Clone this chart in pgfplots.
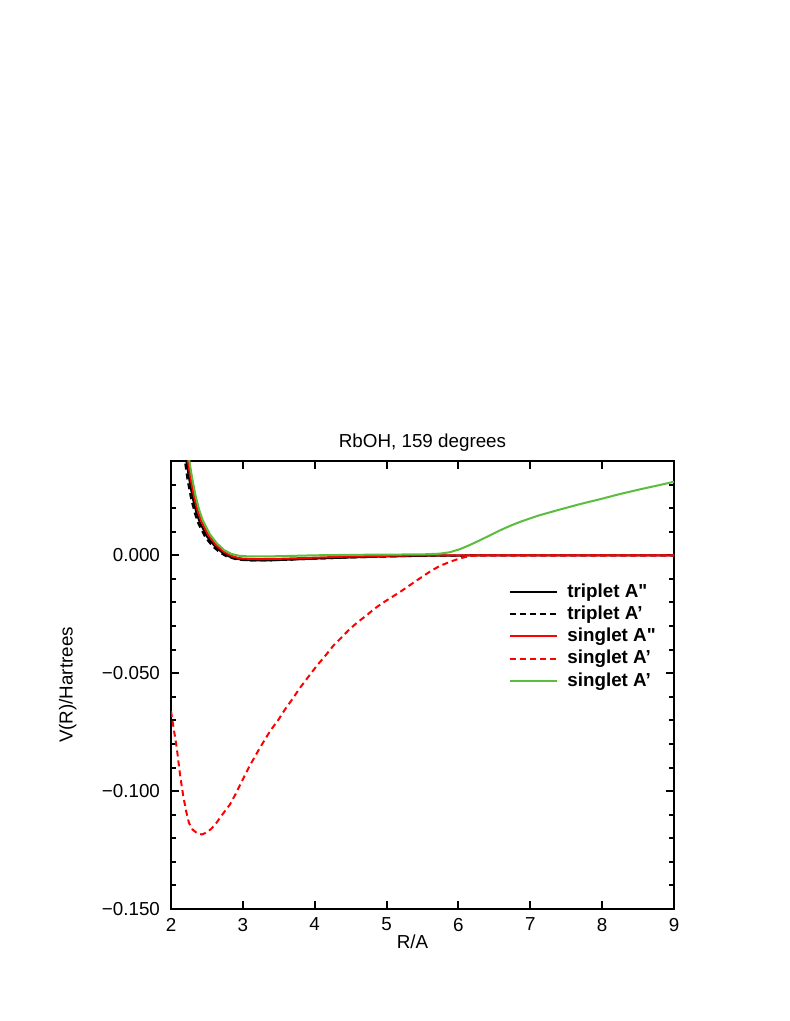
\documentclass[border=0pt]{standalone}
\usepackage{fontspec}
\setmainfont{Liberation Sans}[Ligatures=TeXOff]
\usepackage{pgfplots}
\pgfplotsset{compat=1.18}
\definecolor{mygreen}{RGB}{90,190,60}
\newcommand{\fs}{\fontsize{9.4}{11}\selectfont}
\newcommand{\dq}{\char34\relax}
\begin{document}
\begin{tikzpicture}
\path[use as bounding box] (0,0) rectangle (394.5pt,510.5pt);
\begin{axis}[
  at={(85.5pt,56pt)}, anchor=south west,
  scale only axis, width=251.5pt, height=224pt,
  xmin=2, xmax=9, ymin=-0.15, ymax=0.04,
  xtick={2,3,4,5,6,7,8,9},
  ytick={-0.15,-0.1,-0.05,0},
  yticklabels={−0.150,−0.100,−0.050,0.000},
  minor ytick={-0.14,-0.13,-0.12,-0.11,-0.09,-0.08,-0.07,-0.06,-0.04,-0.03,-0.02,-0.01,0.01,0.02,0.03},
  tick align=inside, tick pos=both,
  major tick length=4pt, minor tick length=2.5pt,
  every tick/.style={black, line width=1pt},
  axis line style={line width=1pt},
  /pgf/number format/assume math mode=true,
  tick label style={font=\fs},
  xticklabel style={yshift=-1pt},
  yticklabel style={xshift=-2pt},
  xlabel={R/A}, ylabel={V(R)/Hartrees},
  label style={font=\fs},
  xlabel style={at={(axis description cs:0.48,-0.074)}, anchor=center},
  ylabel style={at={(axis description cs:-0.205,0.5)}, anchor=center},
  clip mode=individual,
  legend style={at={(0.66,0.745)}, anchor=north west, draw=none, fill=none, font=\fs\bfseries, row sep=-1.2pt,
    nodes={inner xsep=4.5pt}},
  legend cell align=left,
  legend image code/.code={\draw[#1] (0pt,0pt) -- (23.5pt,0pt);},
]
\node[font=\fs, anchor=center] at (rel axis cs:0.5,1.042) {RbOH, 159 degrees};
\addplot[black, line width=1pt] coordinates {
(2.15,0.06) (2.2,0.043) (2.25,0.033) (2.3,0.0245) (2.35,0.0185) (2.4,0.0140) (2.5,0.0080) (2.6,0.0042) (2.7,0.0015) (2.8,-0.0004) (2.9,-0.0014) (3.0,-0.0019) (3.1,-0.0021) (3.2,-0.0022) (3.4,-0.0021) (3.6,-0.0019) (4.0,-0.0014) (4.5,-0.0009) (5.0,-0.0005) (5.5,-0.0002) (6.0,-0.0001) (6.5,0) (9.0,0)};
\addlegendentry{triplet A\dq}
\addplot[black, line width=1pt, dash pattern=on 3pt off 2pt] coordinates {
(2.13,0.06) (2.18,0.043) (2.23,0.032) (2.28,0.024) (2.33,0.018) (2.38,0.0135) (2.48,0.0075) (2.58,0.0038) (2.68,0.0012) (2.78,-0.0006) (2.9,-0.0016) (3.0,-0.002) (3.2,-0.0022) (3.4,-0.0021) (3.6,-0.0019) (4.0,-0.0014) (4.5,-0.0009) (5.0,-0.0005) (5.5,-0.0002) (6.0,-0.0001) (6.5,0) (9.0,0)};
\addlegendentry{triplet A’}
\addplot[red, line width=1pt] coordinates {
(2.17,0.06) (2.22,0.043) (2.27,0.033) (2.32,0.025) (2.37,0.019) (2.42,0.0145) (2.52,0.0085) (2.62,0.0046) (2.72,0.0018) (2.82,0.0) (2.92,-0.001) (3.0,-0.0014) (3.2,-0.0016) (3.5,-0.0015) (4.0,-0.001) (4.5,-0.0005) (5.0,-0.0002) (5.5,0) (9,0)};
\addlegendentry{singlet A\dq}
\addplot[red, line width=1pt, dash pattern=on 3pt off 2pt] coordinates {
(2.0,-0.066) (2.04,-0.074) (2.08,-0.0816) (2.125,-0.0929) (2.17,-0.102) (2.21,-0.1085) (2.25,-0.1135) (2.30,-0.1163) (2.36,-0.1178) (2.43,-0.1184) (2.50,-0.1175) (2.56,-0.1160) (2.62,-0.1140) (2.68,-0.1114) (2.75,-0.1085) (2.82,-0.1057) (2.90,-0.1012) (2.96,-0.0975) (3.03,-0.0932) (3.10,-0.0890) (3.24,-0.0815) (3.38,-0.0745) (3.50,-0.0695) (3.59,-0.0652) (3.70,-0.0605) (3.80,-0.0560) (3.92,-0.0512) (4.03,-0.0468) (4.15,-0.0425) (4.26,-0.0383) (4.38,-0.0346) (4.49,-0.0312) (4.60,-0.0283) (4.72,-0.0255) (4.83,-0.0227) (4.95,-0.0201) (5.07,-0.0178) (5.19,-0.0155) (5.28,-0.0136) (5.37,-0.0117) (5.50,-0.0090) (5.62,-0.0066) (5.74,-0.0045) (5.88,-0.0028) (6.0,-0.0015) (6.1,-0.0007) (6.2,-0.0002) (6.4,0) (9,0)};
\addlegendentry{singlet A’}
\addplot[mygreen, line width=1pt] coordinates {
(2.19,0.06) (2.24,0.043) (2.29,0.0335) (2.34,0.0255) (2.39,0.0195) (2.44,0.015) (2.54,0.009) (2.64,0.005) (2.74,0.0022) (2.84,0.0006) (2.95,-0.0002) (3.1,-0.0005) (3.3,-0.0005) (3.6,-0.0003) (4.0,0.0) (4.5,0.0002) (5.0,0.0003) (5.5,0.0004) (5.74,0.0007) (5.88,0.0013) (6.02,0.0026) (6.16,0.0044) (6.30,0.0064) (6.44,0.0085) (6.58,0.0106) (6.72,0.0125) (6.86,0.0142) (7.0,0.0157) (7.13,0.0170) (7.41,0.0194) (7.69,0.0217) (7.97,0.0238) (8.25,0.0260) (8.53,0.0280) (8.80,0.0298) (9.0,0.0312)};
\addlegendentry{singlet A’}
\end{axis}
\end{tikzpicture}
\end{document}
